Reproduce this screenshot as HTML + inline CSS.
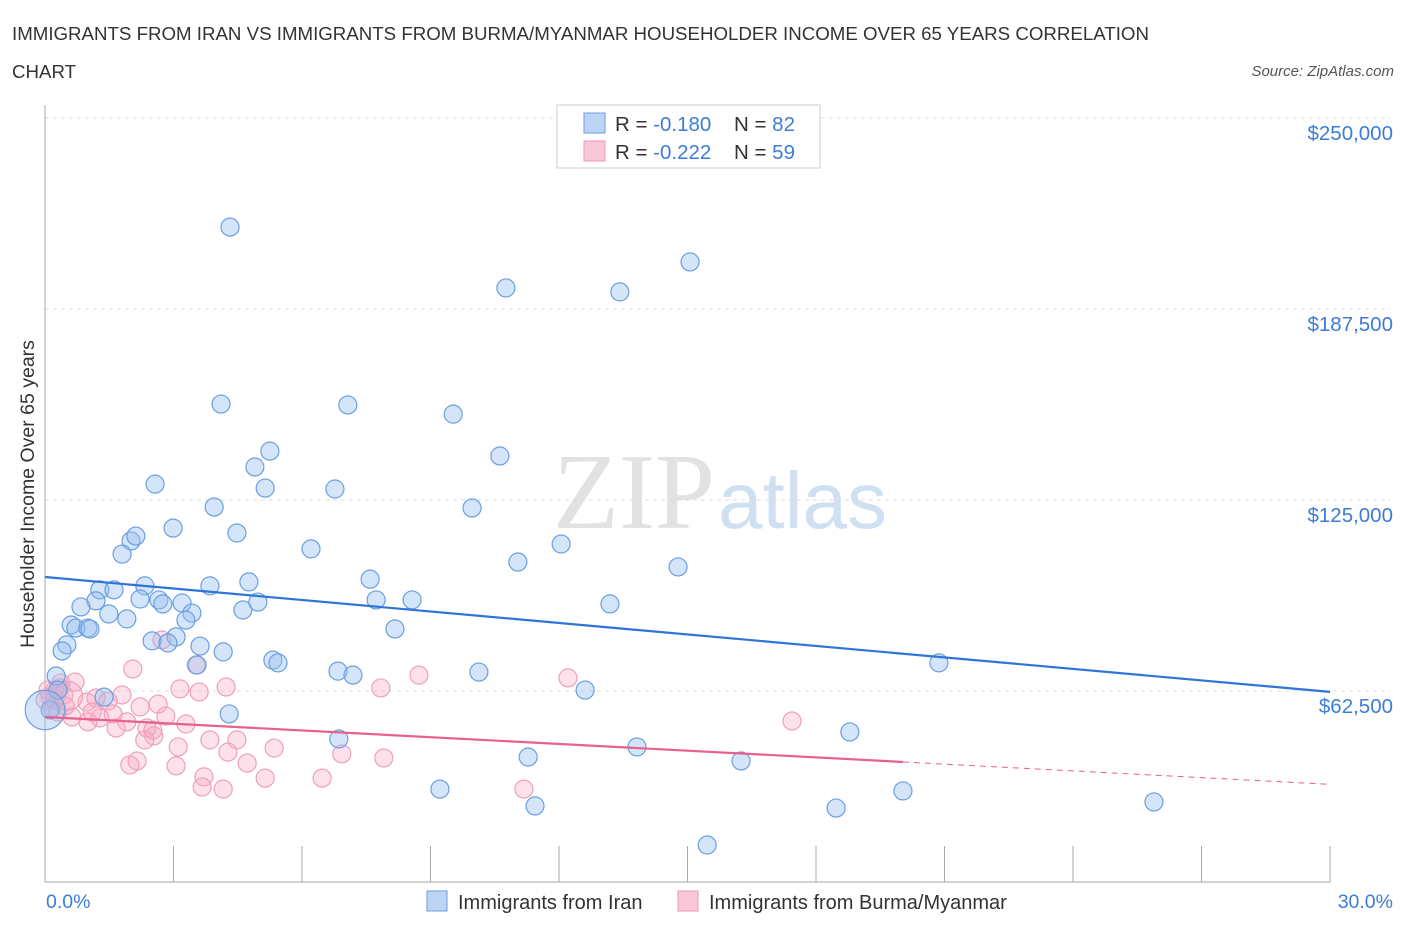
<!DOCTYPE html>
<html><head><meta charset="utf-8"><style>
body{margin:0;background:#fff;font-family:"Liberation Sans",sans-serif;}
svg text{font-family:"Liberation Sans",sans-serif;}
</style></head><body>
<svg id="chart" width="1406" height="930">
<text x="12" y="40" font-size="18.7" fill="#333">IMMIGRANTS FROM IRAN VS IMMIGRANTS FROM BURMA/MYANMAR HOUSEHOLDER INCOME OVER 65 YEARS CORRELATION</text>
<text x="12" y="78" font-size="18.7" fill="#333">CHART</text>
<text x="1394" y="76" font-size="15" fill="#555" font-style="italic" text-anchor="end">Source: ZipAtlas.com</text>
<text x="553" y="528" font-size="108" fill="#e2e2e2" style="font-family:'Liberation Serif',serif">ZIP</text>
<text x="718" y="528" font-size="80" fill="#cfe0f3">atlas</text>
<g id="grid"></g>
<g id="axes"></g>
<g id="pts"></g>
<g id="trends"></g>
<text transform="translate(34,494) rotate(-90)" font-size="19.5" fill="#333" text-anchor="middle">Householder Income Over 65 years</text>
<text x="46" y="908" font-size="19.5" fill="#3b7dd8">0.0%</text>
<text x="1393" y="908" font-size="19.5" fill="#3b7dd8" text-anchor="end">30.0%</text>
<g>
<rect x="557" y="105" width="263" height="63" fill="#fff" stroke="#ccc"/>
<rect x="584" y="113" width="21" height="20" fill="#bcd5f5" stroke="#6a9fe0"/>
<rect x="584" y="141" width="21" height="20" fill="#f9c8d7" stroke="#ee9ab5"/>
<text x="615" y="131" font-size="20.5" fill="#333">R = <tspan fill="#3b7dd8">-0.180</tspan><tspan x="734">N = </tspan><tspan fill="#3b7dd8">82</tspan></text>
<text x="615" y="159" font-size="20.5" fill="#333">R = <tspan fill="#3b7dd8">-0.222</tspan><tspan x="734">N = </tspan><tspan fill="#3b7dd8">59</tspan></text>
</g>
<g>
<rect x="427" y="891" width="20" height="20" fill="#bcd5f5" stroke="#6a9fe0"/>
<text x="458" y="909" font-size="20" fill="#333">Immigrants from Iran</text>
<rect x="678" y="891" width="20" height="20" fill="#f9c8d7" stroke="#ee9ab5"/>
<text x="709" y="909" font-size="20" fill="#333">Immigrants from Burma/Myanmar</text>
</g>
</svg>
<script>
const yTicks=[62500,125000,187500,250000];
const yTickLabels=["$62,500","$125,000","$187,500","$250,000"];
const xTicks=[0,3,6,9,12,15,18,21,24,27,30];
const iranX=[4.32,15.06,10.76,13.42,4.11,7.07,9.53,5.25,10.62,4.90,2.57,5.14,6.77,3.95,9.97,2.99,4.48,2.01,2.12,1.80,6.21,11.04,12.05,14.78,7.59,4.76,2.33,3.85,1.28,1.61,1.19,2.22,2.66,3.20,2.75,7.73,8.57,13.19,0.84,4.62,4.97,1.49,1.91,3.43,3.29,8.17,0.61,0.72,1.00,1.05,3.06,2.50,2.87,0.51,3.62,4.16,0.40,3.55,5.32,5.44,6.84,7.19,10.13,20.87,0.26,12.61,1.38,0.30,4.30,0.12,6.86,13.82,18.79,11.28,16.25,9.22,11.44,20.03,18.47,25.89,15.46,0];
const iranY=[214.3,202.9,194.4,193.1,156.4,156.1,153.1,141.0,139.4,135.8,130.2,128.9,128.6,122.7,122.4,115.8,114.2,111.6,113.2,107.3,109.0,104.7,110.6,103.1,99.1,98.2,96.9,96.9,95.6,95.6,92.0,92.6,92.3,91.3,91.0,92.3,92.3,91.0,90.0,89.0,91.6,87.7,86.1,88.0,85.7,82.8,84.1,83.1,83.1,82.8,80.2,78.9,78.2,77.6,77.2,75.3,75.6,71.0,72.6,71.7,69.0,67.7,68.7,71.7,67.4,62.8,60.5,62.8,55.0,56.3,46.8,44.2,49.1,40.9,39.6,30.4,24.9,29.8,24.2,26.2,12.1,56.3];
const iranW=[1,1,1,1,1,1,1,1,1,1,1,1,1,1,1,1,1,1,1,1,1,1,1,1,1,1,1,1,1,1,1,1,1,1,1,1,1,1,1,1,1,1,1,1,1,1,1,1,1,1,1,1,1,1,1,1,1,1,1,1,1,1,1,1,1,1,1,1,1,1,1,1,1,1,1,1,1,1,1,1,1,2.2];
const burmaX=[2.05,2.73,3.53,8.73,12.21,0.37,0.70,0.23,0.44,3.15,3.60,4.23,7.84,1.80,1.19,0.98,1.47,2.64,0.23,0.16,0.63,1.59,1.28,1.91,1.00,2.38,2.82,3.29,1.66,2.52,2.54,2.33,17.44,3.85,4.48,3.11,5.35,4.27,4.72,6.93,7.91,1.98,2.15,3.06,3.71,5.14,6.47,3.67,4.16,11.18,0.12,0.30,0.47,0.07,0.35,0,0.54,1.10,2.22];
const burmaY=[69.7,79.2,71.0,67.7,66.8,65.1,65.4,62.8,61.2,63.2,62.2,63.8,63.5,61.2,60.2,58.9,59.2,58.2,59.6,57.3,54.0,55.0,53.7,52.4,52.4,50.4,54.3,51.7,50.4,49.7,47.8,46.5,52.7,46.5,46.5,44.2,43.8,42.5,38.9,41.9,40.6,38.3,39.6,38.0,34.4,34.0,34.0,31.1,30.4,30.4,60.5,55.6,57.6,62.8,63.5,59.6,60.9,55.6,57.3];
const burmaW=[1,1,1,1,1,1,1,1,1,1,1,1,1,1,1,1,1,1,1,1,1,1,1,1,1,1,1,1,1,1,1,1,1,1,1,1,1,1,1,1,1,1,1,1,1,1,1,1,1,1,1,1,1,1,1,1,1.6,1,1];
const iranTrend=[99.8,-1.253];
const burmaTrend=[54.0,-0.735];
const burmaTrendSolidEnd=20.03;

const NS="http://www.w3.org/2000/svg";
const X0=45,X1=1330,Y0=882,Ytop=118;
function sx(p){return X0+(p/30)*(X1-X0);}
function sy(k){return Y0-(k/250)*(Y0-Ytop);}
function mk(tag,attrs,parent){const e=document.createElementNS(NS,tag);for(const k in attrs)e.setAttribute(k,attrs[k]);parent.appendChild(e);return e;}
const grid=document.getElementById('grid'),axes=document.getElementById('axes'),pts=document.getElementById('pts'),tr=document.getElementById('trends');
yTicks.forEach((v,i)=>{
  const l=mk('line',{x1:X0,x2:X1+60,y1:sy(v/1000),y2:sy(v/1000),stroke:'#ddd','stroke-dasharray':'4,4'},grid);
  
  
  const t=mk('text',{x:1393,y:sy(v/1000)+22,'font-size':20.5,fill:'#3b7dd8','text-anchor':'end'},grid);
  t.textContent=yTickLabels[i];
  
  
});
const ya=mk('line',{x1:X0,x2:X0,y1:105,y2:Y0,stroke:'#aaa'},axes);


const xa=mk('line',{x1:X0,x2:X1,y1:Y0,y2:Y0,stroke:'#aaa'},axes);


xTicks.forEach(v=>{
  const t=mk('line',{x1:sx(v),x2:sx(v),y1:846,y2:Y0,stroke:'#aaa'},axes);
  
  
});
function drawPts(xs,ys,ws,fill,stroke,name){
  xs.forEach((x,i)=>{
    const c=mk('circle',{cx:sx(x),cy:sy(ys[i]),r:9*ws[i],fill:fill,stroke:stroke,'stroke-width':1.2},pts);
    
    
  });
}
drawPts(burmaX,burmaY,burmaW,'rgba(245,170,195,0.35)','#eea0ba','burma-point');
drawPts(iranX,iranY,iranW,'rgba(150,190,240,0.4)','#6a9fe0','iran-point');
const bl=mk('line',{x1:sx(0),y1:sy(iranTrend[0]),x2:sx(30),y2:sy(iranTrend[0]+30*iranTrend[1]),stroke:'#2f74d8','stroke-width':2.2},tr);


const pl=mk('line',{x1:sx(0),y1:sy(burmaTrend[0]),x2:sx(burmaTrendSolidEnd),y2:sy(burmaTrend[0]+burmaTrendSolidEnd*burmaTrend[1]),stroke:'#e8608c','stroke-width':2.2},tr);


const pd=mk('line',{x1:sx(burmaTrendSolidEnd),y1:sy(burmaTrend[0]+burmaTrendSolidEnd*burmaTrend[1]),x2:sx(30),y2:sy(burmaTrend[0]+30*burmaTrend[1]),stroke:'#e8608c','stroke-width':1,'stroke-dasharray':'6,5'},tr);


</script>
</body></html>
